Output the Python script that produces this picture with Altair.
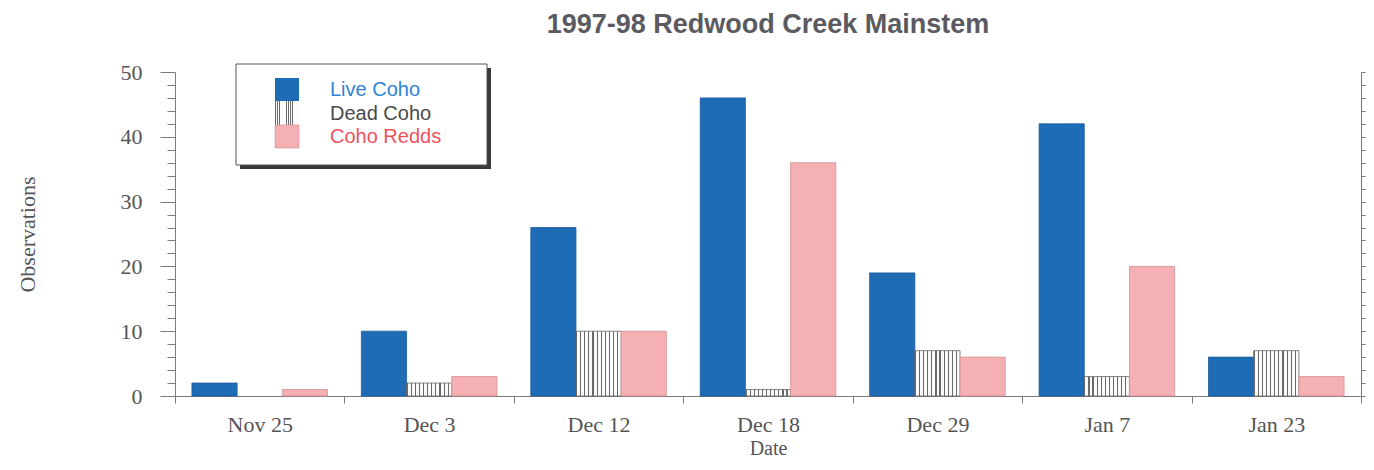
import altair as alt
import pandas as pd

dates = ["Nov 25", "Dec 3", "Dec 12", "Dec 18", "Dec 29", "Jan 7", "Jan 23"]
series = ["Live Coho", "Dead Coho", "Coho Redds"]
live = [2, 10, 26, 46, 19, 42, 6]
dead = [0, 2, 10, 1, 7, 3, 7]
redds = [1, 3, 10, 36, 6, 20, 3]

rows = []
for name, vals in zip(series, [live, dead, redds]):
    for d, v in zip(dates, vals):
        rows.append({"Date": d, "Series": name, "Observations": v})
df = pd.DataFrame(rows)

BLUE = "#1f6cb6"
PINK = "#f5b0b4"
AXIS = "#7a7a7a"
LABEL = "#555555"

# vertical stripe fill for Dead Coho
stops = []
n = 11
for i in range(n):
    a = i / n
    b = (i + 0.28) / n
    c = (i + 1) / n
    stops += [
        {"color": "#6a6a6a", "offset": a},
        {"color": "#6a6a6a", "offset": b},
        {"color": "#fbfbfb", "offset": b},
        {"color": "#fbfbfb", "offset": c},
    ]
stripe = {"gradient": "linear", "stops": stops, "x1": 0, "x2": 1, "y1": 0, "y2": 0}

x_enc = alt.X(
    "Date:N",
    sort=dates,
    scale=alt.Scale(paddingInner=0, paddingOuter=0),
    axis=alt.Axis(
        title="Date",
        labelAngle=0,
        tickBand="extent",
        tickSize=7,
        labelPadding=11,
        titlePadding=3,
        labelFontSize=22,
        titleFontSize=20,
    ),
)
xo_enc = alt.XOffset(
    "Series:N", sort=series, scale=alt.Scale(domain=series, paddingOuter=0.375, paddingInner=0)
)
yscale = alt.Scale(domain=[0, 50], nice=False)

fill_def = {
    "condition": [
        {"test": "datum.Series === 'Live Coho'", "value": BLUE},
        {"test": "datum.Series === 'Dead Coho'", "value": stripe},
    ],
    "value": PINK,
}
stroke_def = {
    "condition": [
        {"test": "datum.Series === 'Live Coho'", "value": "#1a5a99"},
        {"test": "datum.Series === 'Dead Coho'", "value": "#666666"},
    ],
    "value": "#cf8f93",
}

bars = alt.Chart(df).transform_filter(alt.datum.Observations > 0).mark_bar(strokeWidth=0.8).encode(
    x=x_enc,
    xOffset=xo_enc,
    y=alt.Y(
        "Observations:Q",
        scale=yscale,
        axis=alt.Axis(
            orient="left",
            title="Observations",
            values=list(range(0, 51, 2)),
            labelExpr="datum.value % 10 === 0 ? datum.label : ''",
            tickSize={"condition": {"test": "datum.value % 10 === 0", "value": 15}, "value": 8},
            labelPadding=18,
            titlePadding=81,
            grid=False,
            labelFontSize=22,
            titleFontSize=22,
        ),
    ),
    fill=fill_def,
    stroke=stroke_def,
)

right_axis = alt.Chart(df).mark_bar(opacity=0).encode(
    x=x_enc,
    xOffset=xo_enc,
    y=alt.Y(
        "Observations:Q",
        scale=yscale,
        axis=alt.Axis(
            orient="right", title=None, labels=False,
            values=list(range(0, 51, 2)), tickSize=4, grid=False,
        ),
    ),
)

one = alt.Data(values=[{"k": 1}])
shadow = alt.Chart(one).mark_rect(color="#3a3a3a").encode(
    x=alt.value(65), x2=alt.value(316), y=alt.value(-4), y2=alt.value(97)
)
box = alt.Chart(one).mark_rect(fill="white", stroke="#555555", strokeWidth=1).encode(
    x=alt.value(61), x2=alt.value(312), y=alt.value(-8), y2=alt.value(93)
)
sw_live = alt.Chart(one).mark_rect(color=BLUE).encode(
    x=alt.value(100), x2=alt.value(124), y=alt.value(6), y2=alt.value(29)
)
sw_dead = alt.Chart(one).mark_rect(fill=stripe).encode(
    x=alt.value(100), x2=alt.value(124), y=alt.value(29), y2=alt.value(53)
)
sw_redd = alt.Chart(one).mark_rect(color=PINK, stroke="#cf8f93", strokeWidth=0.6).encode(
    x=alt.value(100), x2=alt.value(124), y=alt.value(53), y2=alt.value(76)
)
legend_colors = ["#2e84d4", "#4a4a4a", "#f0525c"]
legend_y = [18, 42, 65]
texts = []
for name, col, yy in zip(series, legend_colors, legend_y):
    texts.append(
        alt.Chart(one).mark_text(
            text=name, color=col, fontSize=20, font="Liberation Sans",
            align="left", baseline="middle",
        ).encode(x=alt.value(155), y=alt.value(yy))
    )

chart = alt.layer(
    bars, right_axis, shadow, box, sw_live, sw_dead, sw_redd, *texts
).resolve_axis(y="independent").properties(
    width=1186,
    height=324,
    autosize=alt.AutoSizeParams(type="none"),
    padding={"left": 167, "top": 64, "right": 5, "bottom": 66},
    title=alt.TitleParams(
        "1997-98 Redwood Creek Mainstem",
        fontSize=27, font="Liberation Sans", fontWeight="bold",
        color="#5a5a60", anchor="middle", offset=22,
    ),
).configure_view(stroke=None).configure_axis(
    domainColor=AXIS, tickColor=AXIS, labelColor=LABEL, titleColor=LABEL,
    labelFont="Liberation Serif", titleFont="Liberation Serif",
    titleFontWeight="normal",
)

chart.save("out.html", embed_options={"renderer": "svg", "actions": False})
